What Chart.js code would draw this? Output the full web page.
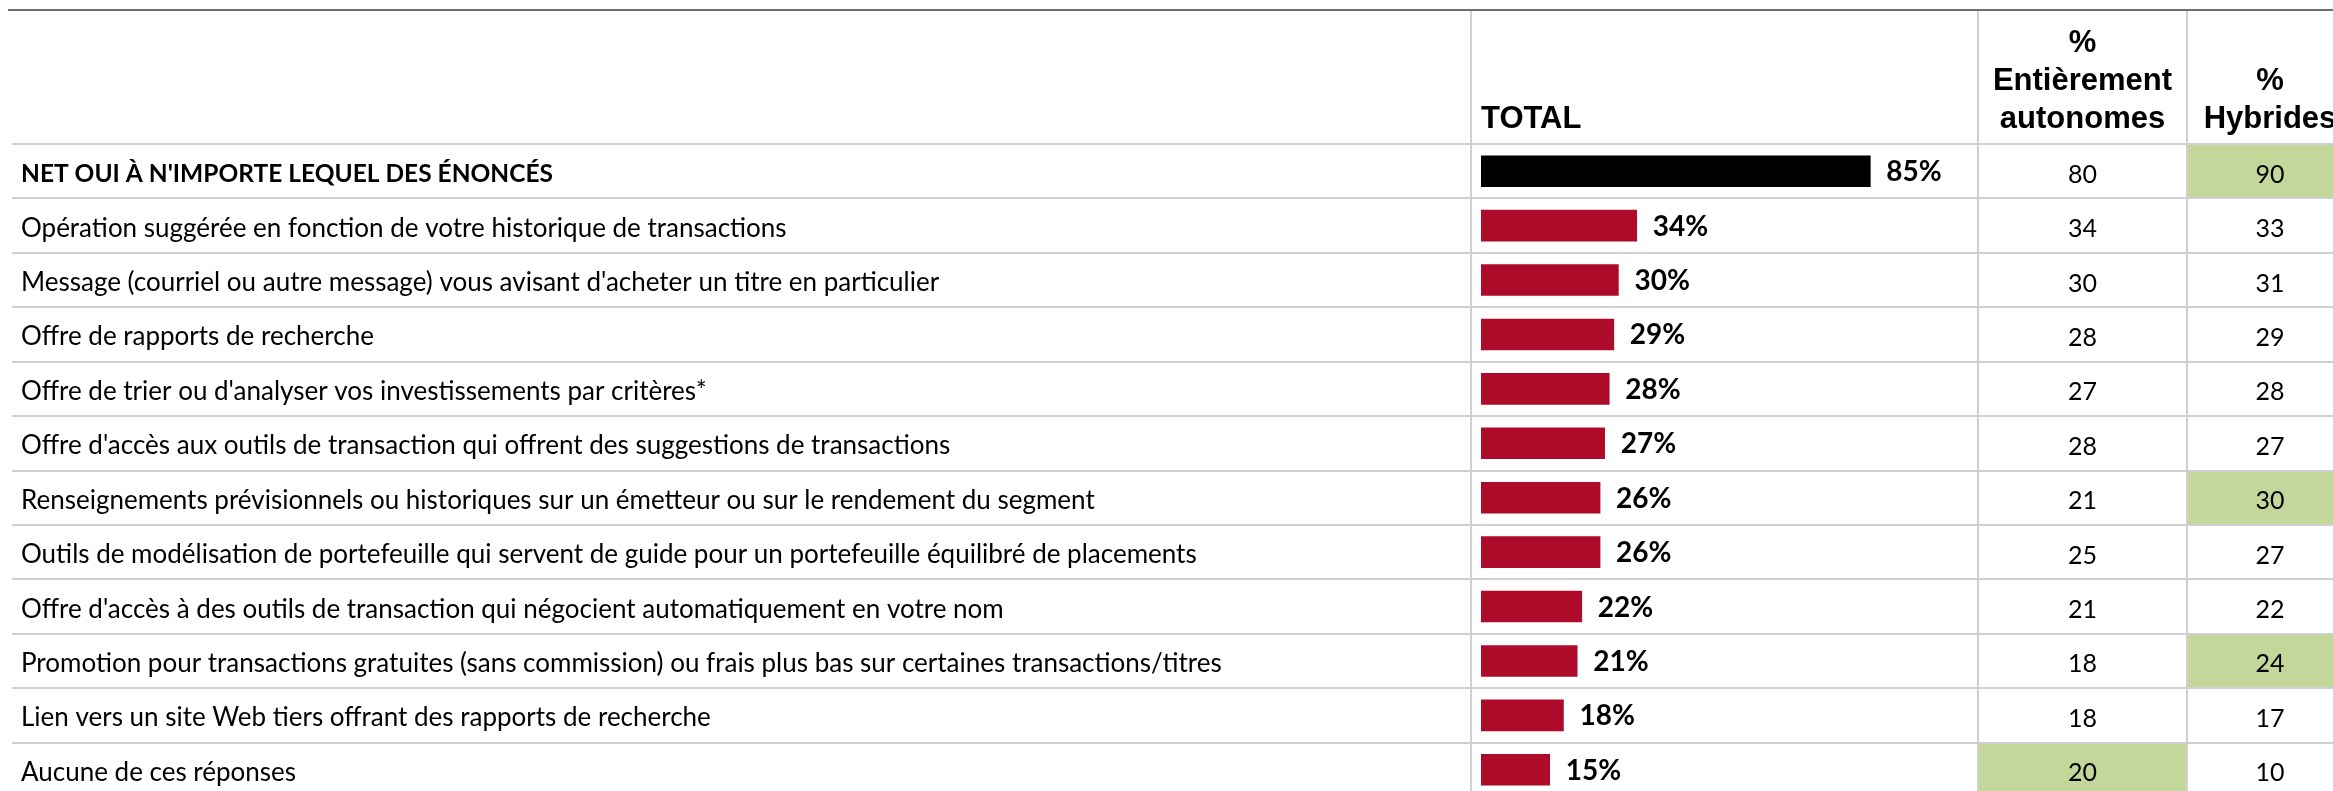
<!DOCTYPE html>
<html lang="fr">
<head>
<meta charset="utf-8">
<title>Énoncés – Total, entièrement autonomes et hybrides</title>
<script src="https://cdn.jsdelivr.net/npm/chart.js@4/dist/chart.umd.min.js"></script>
<style>
  html, body { margin: 0; padding: 0; background: #ffffff; overflow: hidden; }
  canvas { display: block; }
</style>
</head>
<body>
<canvas id="graphique" width="2333" height="797"></canvas>
<script>
// Énoncés (lignes du tableau)
const categories = [
  "NET OUI À N'IMPORTE LEQUEL DES ÉNONCÉS",
  "Opération suggérée en fonction de votre historique de transactions",
  "Message (courriel ou autre message) vous avisant d'acheter un titre en particulier",
  "Offre de rapports de recherche",
  "Offre de trier ou d'analyser vos investissements par critères*",
  "Offre d'accès aux outils de transaction qui offrent des suggestions de transactions",
  "Renseignements prévisionnels ou historiques sur un émetteur ou sur le rendement du segment",
  "Outils de modélisation de portefeuille qui servent de guide pour un portefeuille équilibré de placements",
  "Offre d'accès à des outils de transaction qui négocient automatiquement en votre nom",
  "Promotion pour transactions gratuites (sans commission) ou frais plus bas sur certaines transactions/titres",
  "Lien vers un site Web tiers offrant des rapports de recherche",
  "Aucune de ces réponses"
];

// TOTAL (%), dessiné en barres
const total = [85, 34, 30, 29, 28, 27, 26, 26, 22, 21, 18, 15];

// % Entièrement autonomes
const autonomes = [80, 34, 30, 28, 27, 28, 21, 25, 21, 18, 18, 20];

// % Hybrides
const hybrides = [90, 33, 31, 29, 28, 27, 30, 27, 22, 24, 17, 10];

// Cellules significativement plus élevées (index de ligne)
const autonomesSignificatifs = [11];
const hybridesSignificatifs = [0, 6, 9];

// En-têtes de colonnes
const enteteTotal = ["TOTAL"];
const enteteAutonomes = ["%", "Entièrement", "autonomes"];
const enteteHybrides = ["%", "Hybrides"];

// Mise en page du tableau
const X_LIGNE_DEBUT = 12;
const X_COL_TOTAL = 1471;
const X_COL_AUTO = 1978;
const X_COL_HYB = 2187;
const X_COL_FIN = 2353;
const Y_HAUT = 10;

const POLICE_TEXTE = "Lato, 'Open Sans', sans-serif";
const POLICE_ENTETE = "'Liberation Sans', Arial, sans-serif";

function texte(ctx, str, x, y, align) {
  ctx.textAlign = align;
  ctx.fillText(str, x, y);
}

const tableau = {
  id: 'tableau',
  beforeDatasetsDraw(chart) {
    const { ctx, chartArea, scales: { y } } = chart;
    const W = chart.width;
    const pas = (chartArea.bottom - chartArea.top) / categories.length;
    const haut = i => y.getPixelForValue(i) - pas / 2;

    ctx.save();

    // Cellules surlignées
    ctx.fillStyle = '#C4D79B';
    autonomesSignificatifs.forEach(i => {
      ctx.fillRect(X_COL_AUTO, haut(i), X_COL_HYB - X_COL_AUTO, pas);
    });
    hybridesSignificatifs.forEach(i => {
      ctx.fillRect(X_COL_HYB, haut(i), X_COL_FIN - X_COL_HYB, pas);
    });

    // Lignes horizontales
    ctx.strokeStyle = '#D0D0D0';
    ctx.lineWidth = 2;
    for (let i = 0; i <= categories.length; i++) {
      const yy = Math.round(chartArea.top + i * pas);
      ctx.beginPath();
      ctx.moveTo(X_LIGNE_DEBUT, yy);
      ctx.lineTo(W, yy);
      ctx.stroke();
    }

    // Lignes verticales
    [X_COL_TOTAL, X_COL_AUTO, X_COL_HYB].forEach(xx => {
      ctx.beginPath();
      ctx.moveTo(xx, Y_HAUT);
      ctx.lineTo(xx, chart.height);
      ctx.stroke();
    });

    // Filet supérieur
    ctx.strokeStyle = '#6E6E6E';
    ctx.lineWidth = 2;
    ctx.beginPath();
    ctx.moveTo(8, Y_HAUT);
    ctx.lineTo(W, Y_HAUT);
    ctx.stroke();

    // En-têtes
    ctx.fillStyle = '#000000';
    ctx.textBaseline = 'alphabetic';
    ctx.font = `bold 31px ${POLICE_ENTETE}`;
    const base = chartArea.top - 16.5;
    const inter = 38;
    texte(ctx, enteteTotal[0], chart.scales.x.getPixelForValue(0), base, 'left');
    const cAuto = (X_COL_AUTO + X_COL_HYB) / 2;
    const cHyb = (X_COL_HYB + X_COL_FIN) / 2;
    enteteAutonomes.forEach((t, k) => {
      texte(ctx, t, cAuto, base - (enteteAutonomes.length - 1 - k) * inter, 'center');
    });
    enteteHybrides.forEach((t, k) => {
      texte(ctx, t, cHyb, base - (enteteHybrides.length - 1 - k) * inter, 'center');
    });

    // Libellés et valeurs des colonnes
    categories.forEach((c, i) => {
      const yc = y.getPixelForValue(i);
      ctx.font = i === 0 ? `bold 24.5px ${POLICE_TEXTE}` : `26px ${POLICE_TEXTE}`;
      texte(ctx, c, 21, yc + 11, 'left');
      ctx.font = `25px ${POLICE_TEXTE}`;
      texte(ctx, String(autonomes[i]), cAuto, yc + 11.5, 'center');
      texte(ctx, String(hybrides[i]), cHyb, yc + 11.5, 'center');
    });

    ctx.restore();
  },
  afterDatasetsDraw(chart) {
    const { ctx } = chart;
    const meta = chart.getDatasetMeta(0);
    ctx.save();
    ctx.fillStyle = '#000000';
    ctx.font = `bold 28px ${POLICE_TEXTE}`;
    ctx.textBaseline = 'alphabetic';
    meta.data.forEach((barre, i) => {
      texte(ctx, total[i] + '%', barre.x + 16, barre.y + 10, 'left');
    });
    ctx.restore();
  }
};

new Chart(document.getElementById('graphique'), {
  type: 'bar',
  data: {
    labels: categories,
    datasets: [{
      data: total,
      backgroundColor: total.map((v, i) => i === 0 ? '#000000' : '#AE0B2A'),
      barThickness: 31,
      borderWidth: 0
    }]
  },
  options: {
    indexAxis: 'y',
    responsive: false,
    animation: false,
    layout: { padding: { left: 1481, right: 394, top: 144, bottom: 0 } },
    scales: {
      x: { display: false, min: 0, max: 100 },
      y: { display: false }
    },
    plugins: {
      legend: { display: false },
      tooltip: { enabled: false }
    }
  },
  plugins: [tableau]
});
</script>
</body>
</html>
